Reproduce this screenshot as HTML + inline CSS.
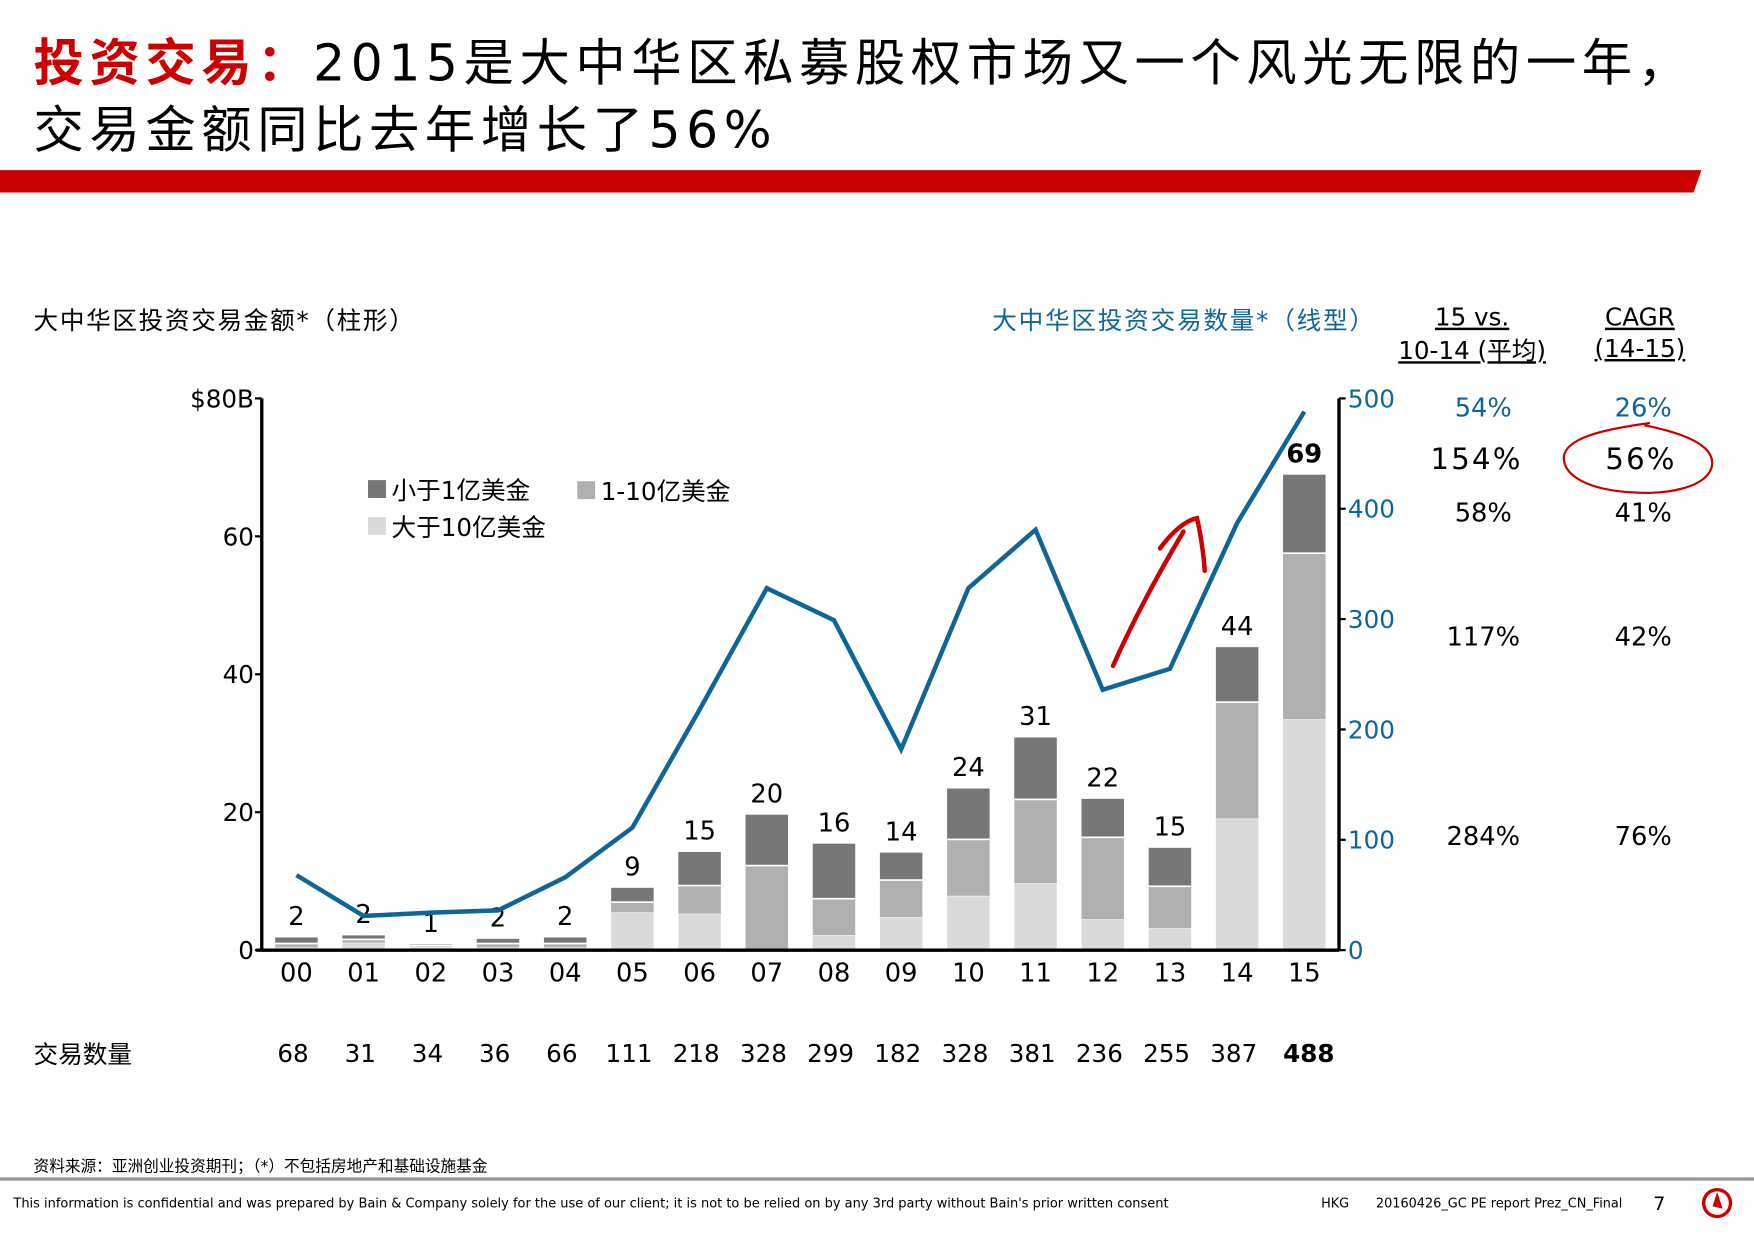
<!DOCTYPE html>
<html><head><meta charset="utf-8"><style>
html,body{margin:0;padding:0;background:#fff;width:1754px;height:1240px;overflow:hidden}
svg{display:block}
text{font-family:"DejaVu Sans","Noto Sans CJK SC",sans-serif}
</style></head><body>
<svg id="slide" width="1754" height="1240" viewBox="0 0 1568 1108" preserveAspectRatio="none" xmlns="http://www.w3.org/2000/svg">
<g font-size="45" letter-spacing="5">
<text x="30" y="72"><tspan fill="#cc0000" font-weight="bold">投资交易：</tspan><tspan fill="#000">2015是大中华区私募股权市场又一个风光无限的一年，</tspan></text>
<text x="30" y="132" fill="#000">交易金额同比去年增长了56%</text>
</g>
<polygon points="0,152 1521,152 1514,172 0,172" fill="#cc0000"/>
<text x="30" y="294" font-size="22" letter-spacing="1.5">大中华区投资交易金额*（柱形）</text>
<text x="887" y="294" font-size="22" letter-spacing="1.6" fill="#0e6598">大中华区投资交易数量*（线型）</text>
<g font-size="22" text-anchor="middle" text-decoration="underline">
<text x="1316" y="291">15 vs.</text><text x="1316" y="321">10-14 (平均)</text></g>
<g font-size="22" text-anchor="middle" text-decoration="underline">
<text x="1466" y="291">CAGR</text><text x="1466" y="319">(14-15)</text></g>
<g id="chart"></g>
<g font-size="23" text-anchor="middle">
<text x="1326" y="372" fill="#0e6598">54%</text><text x="1469" y="372" fill="#0e6598">26%</text>
<text x="1320" y="419" font-size="26" letter-spacing="2">154%</text><text x="1467" y="419" font-size="26" letter-spacing="2">56%</text>
<text x="1326" y="466">58%</text><text x="1469" y="466">41%</text>
<text x="1326" y="577">117%</text><text x="1469" y="577">42%</text>
<text x="1326" y="755">284%</text><text x="1469" y="755">76%</text>
</g>
<path d="M1470,380 C1510,388 1535,400 1530,418 C1524,436 1490,442 1460,440 C1420,438 1397,425 1398,408 C1400,392 1430,384 1475,378" fill="none" stroke="#cc0000" stroke-width="2"/>
<path d="M995,595 C1015,550 1040,505 1058,475 M1037,490 C1048,475 1060,465 1070,463 C1073,475 1076,495 1077,510" fill="none" stroke="#cc0000" stroke-width="4" stroke-linecap="round"/>
<text x="30" y="950" font-size="22">交易数量</text>
<g id="counts" font-size="22" text-anchor="middle"></g>
<text x="30" y="1047" font-size="14">资料来源：亚洲创业投资期刊；（*）不包括房地产和基础设施基金</text>
<rect x="0" y="1052" width="1568" height="3" fill="#999"/>
<text x="12" y="1079" font-size="11.6">This information is confidential and was prepared by Bain &amp; Company solely for the use of our client; it is not to be relied on by any 3rd party without Bain's prior written consent</text>
<text x="1181" y="1079" font-size="11.5">HKG</text>
<text x="1230" y="1079" font-size="11.5">20160426_GC PE report Prez_CN_Final</text>
<text x="1478" y="1081" font-size="17">7</text>
<g><circle cx="1535" cy="1075" r="12" fill="none" stroke="#cc0000" stroke-width="3"/><polygon points="1535,1065 1540,1080 1531,1078" fill="#cc0000"/></g>
</svg>
<script>
const years=["00","01","02","03","04","05","06","07","08","09","10","11","12","13","14","15"];
const large=[0.3,1.0,0.4,0.3,0.3,5.4,5.2,0,2.1,4.7,7.8,9.6,4.4,3.1,19.0,33.4];
const mid=[0.7,0.6,0.3,0.7,0.7,1.6,4.2,12.3,5.4,5.5,8.3,12.3,12.0,6.2,17.0,24.2];
const small=[1.0,0.7,0.3,0.8,1.0,2.2,5.0,7.5,8.1,4.1,7.5,9.1,5.7,5.7,8.1,11.5];
const totals=["2","2","1","2","2","9","15","20","16","14","24","31","22","15","44","69"];
const counts=[68,31,34,36,66,111,218,328,299,182,328,381,236,255,387,488];
const leftTicks=[0,20,40,60,80];
const rightTicks=[0,100,200,300,400,500];
const NS="http://www.w3.org/2000/svg";
const g=document.getElementById('chart');
function mk(tag,attrs,parent,txt){const e=document.createElementNS(NS,tag);for(const k in attrs)e.setAttribute(k,attrs[k]);if(txt!==undefined)e.textContent=txt;(parent||g).appendChild(e);return e;}
const X0=234,X1=1197,Y0=849,Y1=356;
function xb(i){return 265+i*(1166-265)/15;}
function yl(v){return Y0-(v/80)*(Y0-Y1);}
function yr(v){return Y0-(v/500)*(Y0-Y1);}
const cols=["#dadada","#b0b0b0","#777777"];
const series=[large,mid,small];
const sNames=["bar-over-1b","bar-100m-1b","bar-under-100m"];
years.forEach((y,i)=>{let base=0;
 series.forEach((s,k)=>{const v=s[i];const top=yl(base+v),bot=yl(base);
  const r=mk('rect',{x:xb(i)-19,y:top+(k>0?1:0),width:38,height:Math.max(0,bot-top-(k>0?1.5:0)),fill:cols[k]});
  
  
  base+=v;});
 const t=mk('text',{x:xb(i),y:yl(base)-10,'font-size':23,'text-anchor':'middle','font-weight':i===15?'bold':'normal'},g,totals[i]);
 
 
 const xl=mk('text',{x:xb(i),y:877,'font-size':23,'text-anchor':'middle'},g,y);
 
 
 const c=mk('text',{x:xb(i)-3+(i===15?7:0),y:949,'font-weight':i===15?'bold':'normal'},document.getElementById('counts'),String(counts[i]));
 
 
});
const pts=counts.map((v,i)=>xb(i)+','+yr(v)).join(' ');
const ln=mk('polyline',{points:pts,fill:'none',stroke:'#0e6598','stroke-width':4,'stroke-linejoin':'miter'});


const la=mk('path',{d:`M${X0},${Y1}V${Y0}M${X0-5},${Y0}H${X1}`,stroke:'#000','stroke-width':3,fill:'none'});


const ra=mk('path',{d:`M${X1},${Y1}V${Y0+1}`,stroke:'#000','stroke-width':3,fill:'none'});


leftTicks.forEach(v=>{mk('line',{x1:X0-6,x2:X0,y1:yl(v),y2:yl(v),stroke:'#000','stroke-width':2});
 const t=mk('text',{x:X0-7,y:yl(v)+8,'font-size':22,'text-anchor':'end'},g,v===80?'$80B':String(v));
 
 });
rightTicks.forEach(v=>{mk('line',{x1:X1,x2:X1+6,y1:yr(v),y2:yr(v),stroke:'#000','stroke-width':2});
 const t=mk('text',{x:X1+8,y:yr(v)+8,'font-size':22,fill:'#0e6598'},g,String(v));
 
 });
const leg=[["小于1亿美金",329,429,cols[2]],["1-10亿美金",516,430,cols[1]],["大于10亿美金",329,462,cols[0]]];
leg.forEach((l,k)=>{const gg=mk('g',{});
 
 
 mk('rect',{x:l[1],y:l[2],width:16,height:16,fill:l[3]},gg);
 mk('text',{x:l[1]+21,y:l[2]+17,'font-size':22},gg,l[0]);});
</script>
</body></html>
